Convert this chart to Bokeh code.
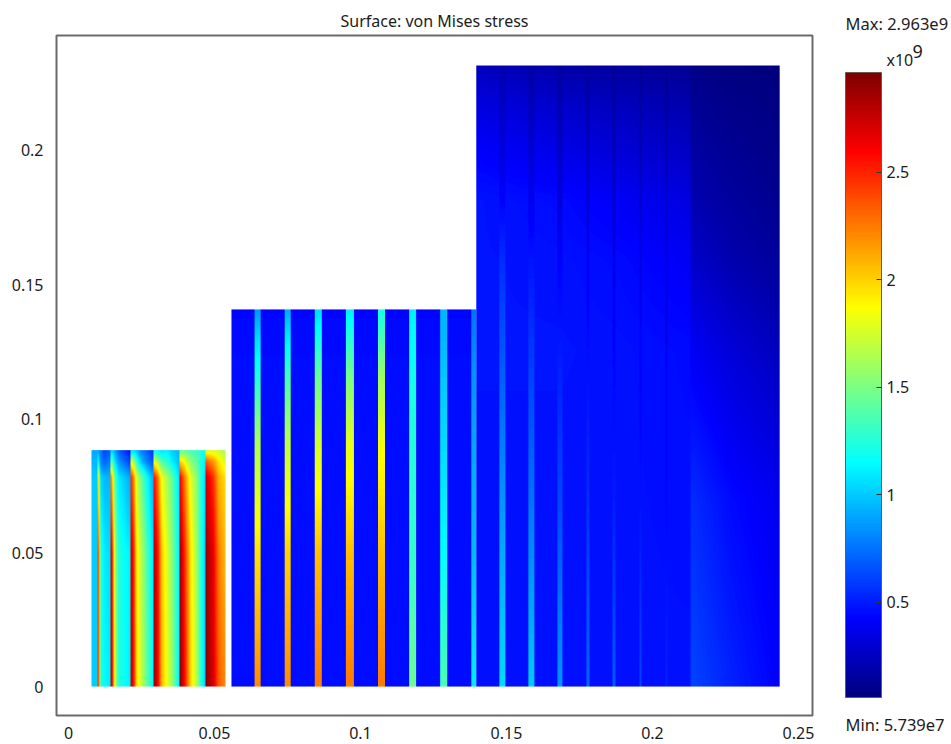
import numpy as np
from bokeh.plotting import figure
from bokeh.layouts import row
from bokeh.embed import file_html
from bokeh.resources import INLINE
from bokeh.core.properties import value
from bokeh.models import LinearColorMapper, ColorBar, FixedTicker

# ---------- values (stress in units of 1e9 Pa, positions in metres) ----------
V_MIN, V_MAX = 0.05739, 2.963
TITLE = "Surface: von Mises stress"
MAX_TEXT = "Max: 2.963e9"
MIN_TEXT = "Min: 5.739e7"
X_TICKS = [0, 0.05, 0.1, 0.15, 0.2, 0.25]
Y_TICKS = [0, 0.05, 0.1, 0.15, 0.2]
BAR_TICKS = [0.5, 1, 1.5, 2, 2.5]

# block 1 (smallest rectangle): stations across x, stress along the height
b1_bounds = [0.00788, 0.05377, 0.0, 0.0882]
b1_rows = [0.0, 0.05, 0.078, 0.084, 0.0882]
b1_x = [0.00788, 0.00986, 0.00993, 0.01045, 0.01096, 0.01233, 0.01432, 0.01438, 0.01507, 0.01575,
        0.01712, 0.02116, 0.02123, 0.02226, 0.02329, 0.02466, 0.02671, 0.02894, 0.02901, 0.03048,
        0.03186, 0.03356, 0.03562, 0.03795, 0.03801, 0.03973, 0.04178, 0.04418, 0.04555, 0.04685,
        0.04692, 0.04966, 0.05137, 0.05377]
b1_r0 = [1.0, 1.0, 2.55, 2.25, 1.25, 1.15, 1.1, 2.8, 2.6, 1.8, 1.25, 1.1, 2.8, 2.6, 2.0, 1.75, 1.45, 1.1, 2.9, 2.7,
         2.1, 1.85, 1.55, 1.1, 2.95, 2.6, 2.0, 1.6, 1.2, 1.0, 2.95, 2.7, 2.35, 2.2]
b1_r1 = [1.0, 1.0, 2.5, 2.2, 1.25, 1.1, 1.05, 2.75, 2.5, 1.7, 1.25, 1.1, 2.75, 2.55, 1.95, 1.7, 1.4, 1.05, 2.85, 2.6,
         2.05, 1.8, 1.5, 1.1, 2.9, 2.5, 1.95, 1.55, 1.2, 1.0, 2.9, 2.65, 2.25, 2.05]
b1_r2 = [1.0, 1.0, 2.1, 1.7, 1.05, 0.95, 0.95, 2.3, 2.0, 1.45, 1.1, 0.9, 2.5, 2.25, 1.75, 1.5, 1.2, 0.9, 2.6, 2.3,
         1.85, 1.65, 1.4, 1.05, 2.65, 2.25, 1.8, 1.5, 1.2, 1.05, 2.75, 2.45, 2.1, 1.95]
b1_r3 = [0.95, 0.95, 1.3, 1.05, 0.8, 0.7, 0.8, 1.5, 1.35, 1.1, 0.85, 0.6, 1.8, 1.65, 1.3, 1.0, 0.8, 0.65, 1.85, 1.65,
         1.35, 1.3, 1.1, 0.95, 2.0, 1.85, 1.55, 1.4, 1.2, 1.1, 2.35, 2.15, 1.95, 1.75]
b1_r4 = [0.9, 0.9, 0.9, 0.85, 0.8, 0.6, 0.7, 1.0, 1.0, 0.9, 0.7, 0.45, 1.0, 1.0, 0.95, 0.8, 0.7, 0.55, 1.1, 1.1,
         1.05, 1.1, 1.0, 0.95, 1.4, 1.4, 1.35, 1.3, 1.25, 1.2, 1.75, 1.75, 1.7, 1.6]

# block 2 (middle rectangle)
b2_bounds = [0.05582, 0.13966, 0.0, 0.1407]
b2_base = [0.46, 0.46, 0.46, 0.46, 0.45, 0.44]
b2_rows = [0.0, 0.05, 0.09, 0.115, 0.13, 0.1407]
b2_left = [0.0637, 0.0740, 0.0843, 0.0950, 0.1057, 0.1164, 0.1271, 0.1377]
b2_right = [0.0657, 0.0760, 0.0866, 0.0975, 0.1083, 0.1189, 0.1295, 0.1397]
b2_s1 = [2.2, 1.95, 1.65, 1.25, 1.05, 0.85]
b2_s2 = [2.2, 2.0, 1.7, 1.35, 1.1, 0.9]
b2_s3 = [2.25, 2.05, 1.75, 1.45, 1.2, 1.05]
b2_s4 = [2.25, 2.05, 1.8, 1.5, 1.25, 1.1]
b2_s5 = [2.25, 2.05, 1.85, 1.6, 1.35, 1.2]
b2_s6 = [1.45, 1.3, 1.25, 1.2, 1.15, 1.1]
b2_s7 = [1.35, 1.15, 1.05, 1.0, 0.95, 0.95]
b2_s8 = [1.1, 0.95, 0.9, 0.85, 0.8, 0.75]

# block 3 (tall rectangle): background on a coarse grid plus thin stripes
b3_bounds = [0.13966, 0.24356, 0.0, 0.2317]
b3_grid_x = [0.13966, 0.1685, 0.1890, 0.2127, 0.2134, 0.2267, 0.24356]
b3_grid_y = [0.0, 0.0694, 0.1254, 0.159, 0.1813, 0.2, 0.2187, 0.2317]
b3_y0 = [0.47, 0.47, 0.47, 0.47, 0.62, 0.52, 0.42]
b3_y1 = [0.47, 0.47, 0.47, 0.46, 0.55, 0.45, 0.38]
b3_y2 = [0.48, 0.48, 0.47, 0.45, 0.40, 0.32, 0.24]
b3_y3 = [0.48, 0.47, 0.45, 0.40, 0.28, 0.20, 0.14]
b3_y4 = [0.48, 0.45, 0.40, 0.34, 0.21, 0.15, 0.11]
b3_y5 = [0.42, 0.36, 0.31, 0.26, 0.17, 0.12, 0.09]
b3_y6 = [0.33, 0.27, 0.23, 0.19, 0.12, 0.09, 0.07]
b3_y7 = [0.24, 0.18, 0.15, 0.12, 0.09, 0.07, 0.06]
b3_rows = [0.0, 0.07, 0.159, 0.2, 0.2317]
b3_left = [0.1477, 0.1576, 0.1676, 0.1773, 0.1864, 0.1955, 0.2045]
b3_right = [0.1497, 0.1596, 0.1692, 0.1785, 0.1874, 0.1964, 0.2052]
b3_s1 = [1.05, 0.85, 0.55, 0.33, 0.20]
b3_s2 = [1.0, 0.75, 0.48, 0.30, 0.17]
b3_s3 = [0.85, 0.62, 0.42, 0.26, 0.15]
b3_s4 = [0.72, 0.55, 0.40, 0.24, 0.13]
b3_s5 = [0.68, 0.50, 0.38, 0.22, 0.12]
b3_s6 = [0.62, 0.47, 0.36, 0.20, 0.11]
b3_s7 = [0.52, 0.44, 0.34, 0.18, 0.10]

# ---------- jet colormap stops ----------
JET_POS = [0.0, 0.125, 0.375, 0.625, 0.875, 1.0]
JET_R = [0, 0, 0, 255, 255, 127]
JET_G = [0, 0, 255, 255, 0, 0]
JET_B = [127, 255, 255, 0, 0, 0]
t = np.linspace(0, 1, 256)
jet = ["#%02x%02x%02x" % (int(r), int(g), int(b)) for r, g, b in zip(
    np.interp(t, JET_POS, JET_R), np.interp(t, JET_POS, JET_G), np.interp(t, JET_POS, JET_B))]
mapper = LinearColorMapper(palette=jet, low=V_MIN, high=V_MAX)

FONT = "Noto Sans"
INK = "#1c1c1c"

# ---------- main figure ----------
PX_X, PX_Y = 2920, 2680
p = figure(width=818, height=744, x_range=(-0.0041, 0.2548), y_range=(-0.0108, 0.2429),
           min_border_left=56, min_border_right=6, min_border_top=35, min_border_bottom=29,
           output_backend="svg", toolbar_location=None, title=TITLE, frame_align=False)
p.title.align = "center"
p.title.text_font = FONT
p.title.text_font_size = "16px"
p.title.text_font_style = "normal"
p.title.text_color = INK
p.title.offset = 0
p.title.standoff = 8
p.grid.visible = False
p.outline_line_color = "#6a6a6a"
p.outline_line_width = 2
p.background_fill_color = "white"
for ax in (p.xaxis[0], p.yaxis[0]):
    ax.axis_line_color = None
    ax.major_tick_line_color = None
    ax.minor_tick_line_color = None
    ax.major_label_text_font = FONT
    ax.major_label_text_font_size = "16px"
    ax.major_label_text_color = INK
p.xaxis[0].ticker = FixedTicker(ticks=X_TICKS)
p.yaxis[0].ticker = FixedTicker(ticks=Y_TICKS)
p.xaxis[0].major_label_overrides = {0: "0", 0.05: "0.05", 0.1: "0.1", 0.15: "0.15", 0.2: "0.2", 0.25: "0.25"}
p.yaxis[0].major_label_overrides = {0: "0", 0.05: "0.05", 0.1: "0.1", 0.15: "0.15", 0.2: "0.2"}
p.xaxis[0].major_label_standoff = 5
p.yaxis[0].major_label_standoff = 7


def axes_for(bounds):
    x0, x1, y0, y1 = bounds
    nx = int(round((x1 - x0) * PX_X))
    ny = int(round((y1 - y0) * PX_Y))
    xs = x0 + (np.arange(nx) + 0.5) / nx * (x1 - x0)
    ys = y0 + (np.arange(ny) + 0.5) / ny * (y1 - y0)
    return xs, ys


def draw(field, bounds):
    x0, x1, y0, y1 = bounds
    p.image(image=[field], x=x0, y=y0, dw=x1 - x0, dh=y1 - y0, color_mapper=mapper)


# block 1
xs, ys = axes_for(b1_bounds)
table = np.array([b1_r0, b1_r1, b1_r2, b1_r3, b1_r4])
prof = np.array([np.interp(xs, b1_x, r) for r in table])
draw(np.array([[np.interp(y, b1_rows, prof[:, j]) for j in range(len(xs))] for y in ys]), b1_bounds)

# block 2
xs, ys = axes_for(b2_bounds)
f = np.tile(np.interp(ys, b2_rows, b2_base)[:, None], (1, len(xs)))
for l, r, s in zip(b2_left, b2_right, [b2_s1, b2_s2, b2_s3, b2_s4, b2_s5, b2_s6, b2_s7, b2_s8]):
    f[:, (xs >= l) & (xs <= r)] = np.interp(ys, b2_rows, s)[:, None]
draw(f, b2_bounds)

# block 3
xs, ys = axes_for(b3_bounds)
table = np.array([b3_y0, b3_y1, b3_y2, b3_y3, b3_y4, b3_y5, b3_y6, b3_y7])
prof = np.array([np.interp(xs, b3_grid_x, r) for r in table])
f = np.array([[np.interp(y, b3_grid_y, prof[:, j]) for j in range(len(xs))] for y in ys])
for l, r, s in zip(b3_left, b3_right, [b3_s1, b3_s2, b3_s3, b3_s4, b3_s5, b3_s6, b3_s7]):
    f[:, (xs >= l) & (xs <= r)] = np.interp(ys, b3_rows, s)[:, None]
draw(f, b3_bounds)

# ---------- side figure: colour bar and its notes (page pixel coordinates) ----------
side = figure(width=133, height=744, x_range=(818, 951), y_range=(744, 0),
              min_border_left=0, min_border_right=0, min_border_top=0, min_border_bottom=0,
              output_backend="svg", toolbar_location=None, frame_align=False)
side.xaxis.visible = False
side.yaxis.visible = False
side.grid.visible = False
side.outline_line_color = None

notes_text = [MAX_TEXT, "x10", "9", MIN_TEXT]
notes_x = [845, 886, 912, 845]
notes_y = [23, 59, 51, 724]
notes_size = ["16.5px", "16px", "18px", "16.5px"]
for txt, nx, ny, sz in zip(notes_text, notes_x, notes_y, notes_size):
    side.text(x=[nx], y=[ny], text=[txt], text_font=value(FONT), text_font_size=value(sz),
              text_color=INK, text_baseline="middle", text_align="left")

cb = ColorBar(color_mapper=mapper, ticker=FixedTicker(ticks=BAR_TICKS),
              major_label_overrides={0.5: "0.5", 1: "1", 1.5: "1.5", 2: "2", 2.5: "2.5"},
              width=36, height=625, location=(27, 47), padding=0, margin=0,
              background_fill_alpha=0, border_line_color=None,
              bar_line_color="#6b5a4a", bar_line_width=1,
              major_tick_line_color="#333333", major_tick_in=5, major_tick_out=0,
              minor_tick_line_color=None, label_standoff=5,
              major_label_text_font=FONT, major_label_text_font_size="16px",
              major_label_text_color=INK)
side.add_layout(cb, "center")

layout = row(p, side, spacing=0)
open("out.html", "w").write(file_html(layout, INLINE))
